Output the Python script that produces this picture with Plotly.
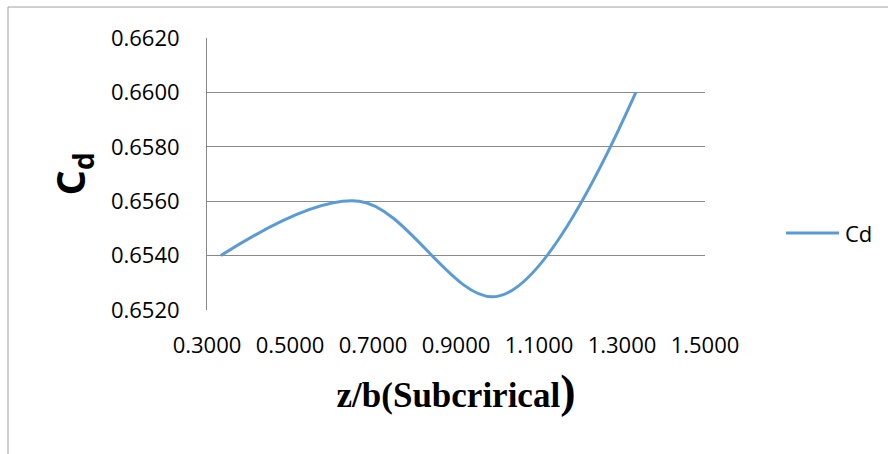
import plotly.graph_objects as go

z_b = [0.3333, 0.6667, 1.0000, 1.3333]
cd = [0.6540, 0.6560, 0.6525, 0.6600]
series_name = "Cd"
x_title_word = "Sub" + "cri" + "ri" + "cal"

LINE_COLOR = "#5B9BD5"

fig = go.Figure()
fig.add_trace(go.Scatter(
    x=z_b, y=cd, mode="lines", name=series_name, showlegend=False,
    line=dict(color=LINE_COLOR, width=3, shape="spline", smoothing=1.0),
))

W, H = 888, 454
L, R, T, B = 207, 183, 38, 144
pw, ph = W - L - R, H - T - B

def px_x(p):
    return (p - L) / pw

def px_y(p):
    return (H - B - p) / ph

fig.update_layout(
    width=W, height=H,
    margin=dict(l=L, r=R, t=T, b=B),
    paper_bgcolor="white", plot_bgcolor="white",
    font=dict(family="Open Sans, Noto Sans, sans-serif", size=22, color="black"),
    showlegend=False,
    xaxis=dict(
        range=[0.3, 1.5], dtick=0.2, tick0=0.3, tickformat=".4f",
        showgrid=False, zeroline=False, showline=False,
        ticks="", ticklabelstandoff=20,
        title=dict(text="<b>z/b(" + x_title_word + "<span style='font-size:46px'>)</span></b>",
                   standoff=24,
                   font=dict(family="Liberation Serif, Times New Roman, serif", size=35)),
    ),
    yaxis=dict(
        range=[0.652, 0.662], dtick=0.002, tickformat=".4f",
        showgrid=True, gridcolor="#8A8A8A", gridwidth=1,
        zeroline=False, showline=True, linecolor="#8A8A8A", linewidth=1,
        ticks="", ticklabelstandoff=22,
        title=dict(text="<b>C<sub>d</sub></b>", standoff=12,
                   font=dict(family="Open Sans, Noto Sans, sans-serif", size=40)),
    ),
)

# outer chart border (Excel chart area)
fig.add_shape(type="rect", xref="paper", yref="paper",
              x0=px_x(8), x1=px_x(W + 5), y0=px_y(H + 5), y1=px_y(7),
              line=dict(color="#A0A0A0", width=1), fillcolor="rgba(0,0,0,0)",
              layer="below")

# legend (Excel-style: long line sample + label)
fig.add_shape(type="line", xref="paper", yref="paper",
              x0=px_x(786), x1=px_x(839), y0=px_y(233), y1=px_y(233),
              line=dict(color=LINE_COLOR, width=3))
fig.add_annotation(xref="paper", yref="paper", x=px_x(843), y=px_y(233),
                   text=series_name, showarrow=False, xanchor="left", yanchor="middle",
                   font=dict(size=22))

fig.write_html("out.html")
